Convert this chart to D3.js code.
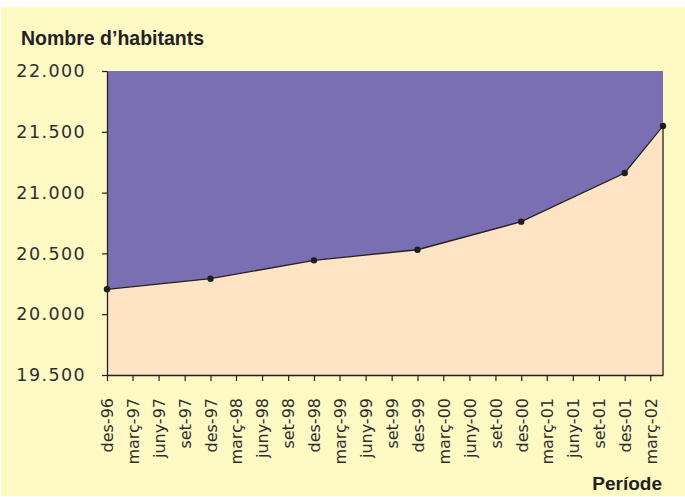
<!DOCTYPE html>
<html>
<head>
<meta charset="utf-8">
<script src="https://cdn.jsdelivr.net/npm/d3@7"></script>
<style>
  body { margin: 0; background: #fff; }
  svg { display: block; }
  .axis text { fill: #2e2e2e; font-family: "DejaVu Sans", sans-serif; }
  .title { font-family: "Liberation Sans", Arial, sans-serif; font-weight: bold; fill: #222; }
</style>
</head>
<body>
<div id="chart"></div>
<script>
// data
const periods = ["1996-12-01", "1997-12-01", "1998-12-01", "1999-12-01", "2000-12-01", "2001-12-01", "2002-04-15"]
const habitants = [20205, 20292, 20443, 20530, 20761, 21161, 21548]
const tickLabels = [
  "des-96", "març-97", "juny-97", "set-97",
  "des-97", "març-98", "juny-98", "set-98",
  "des-98", "març-99", "juny-99", "set-99",
  "des-99", "març-00", "juny-00", "set-00",
  "des-00", "març-01", "juny-01", "set-01",
  "des-01", "març-02"
]
const yTicks = [19500, 20000, 20500, 21000, 21500, 22000]

const W = 685, H = 497
const margin = { top: 71, right: 22, bottom: 122, left: 107 }
const width = W - margin.left - margin.right
const height = H - margin.top - margin.bottom

const parse = d3.timeParse("%Y-%m-%d")
const data = periods.map((p, i) => ({ date: parse(p), value: habitants[i] }))

const svg = d3.select("#chart").append("svg")
  .attr("width", W)
  .attr("height", H)

// background panel
svg.append("rect")
  .attr("x", 1).attr("y", 7)
  .attr("width", W - 1).attr("height", H - 8)
  .attr("fill", "#fff9c4")

// scales
let x = d3.scaleTime()
  .domain([data[0].date, data[data.length - 1].date])
  .range([0, width])
let y = d3.scaleLinear()
  .domain([19500, 22000])
  .range([height, 0])

const tickDates = d3.timeMonth.range(data[0].date, data[data.length - 1].date, 3)

const loc = d3.formatLocale({ decimal: ",", thousands: ".", grouping: [3], currency: ["", "€"] })
const fmt = loc.format(",d")

let g = svg.append("g")
  .attr("transform", "translate(" + margin.left + "," + margin.top + ")")

// plot area
g.append("rect")
  .attr("width", width)
  .attr("height", height)
  .attr("fill", "#7b6fb3")

// area below the line
const area = d3.area()
  .x(d => x(d.date))
  .y0(height)
  .y1(d => y(d.value))
g.append("path")
  .datum(data)
  .attr("d", area)
  .attr("fill", "#fee3c5")

// line with right edge drop
const last = data[data.length - 1]
const linePts = data.map(d => [x(d.date), y(d.value)])
linePts.push([x(last.date), height])
g.append("path")
  .attr("d", d3.line()(linePts))
  .attr("fill", "none")
  .attr("stroke", "#222")
  .attr("stroke-width", 1.3)

// axes
function yAxis(g) {
  g.call(d3.axisLeft(y).tickValues(yTicks).tickFormat(fmt).tickSizeInner(5).tickSizeOuter(0).tickPadding(16))
  g.select(".domain").attr("stroke", "#222").attr("stroke-width", 1.3)
  g.selectAll(".tick line").attr("stroke", "#222").attr("stroke-width", 1.2)
  g.selectAll(".tick text")
    .attr("font-size", 17.5)
    .attr("letter-spacing", "1.4px")
}

function xAxis(g) {
  g.call(d3.axisBottom(x).tickValues(tickDates).tickFormat((d, i) => tickLabels[i]).tickSizeInner(6).tickSizeOuter(0))
  g.select(".domain").attr("stroke", "#222").attr("stroke-width", 1.3)
  g.selectAll(".tick line").attr("stroke", "#222").attr("stroke-width", 1.2)
  g.selectAll(".tick text")
    .attr("font-size", 16)
    .attr("text-anchor", "end")
    .attr("transform", "rotate(-90)")
    .attr("x", -23)
    .attr("y", 0)
    .attr("dy", "0.36em")
}

g.append("g")
  .attr("class", "y axis")
  .call(yAxis)

g.append("g")
  .attr("class", "x axis")
  .attr("transform", "translate(0," + height + ")")
  .call(xAxis)

// markers
g.selectAll("circle")
  .data(data)
  .enter()
  .append("circle")
  .attr("cx", d => x(d.date))
  .attr("cy", d => y(d.value))
  .attr("r", 3.2)
  .attr("fill", "#1e1e1e")

// titles
svg.append("text")
  .attr("class", "title")
  .attr("x", 21)
  .attr("y", 45)
  .attr("font-size", 19.5)
  .text("Nombre d’habitants")

svg.append("text")
  .attr("class", "title")
  .attr("x", 662)
  .attr("y", 490)
  .attr("text-anchor", "end")
  .attr("font-size", 19)
  .text("Període")
</script>
</body>
</html>
